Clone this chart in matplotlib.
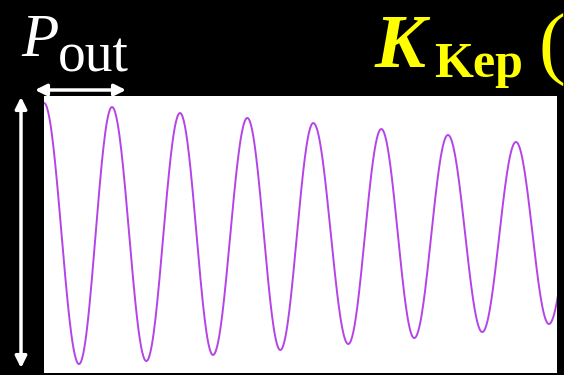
import numpy as np
import matplotlib.pyplot as plt

# extrema of the oscillation, time in units of the orbital period
peak_t = [0.0, 1.01, 2.02, 3.02, 4.00, 5.01, 6.00, 7.01, 8.01]
peak_v = [1.00, 0.969, 0.923, 0.885, 0.846, 0.800, 0.754, 0.700, 0.660]
trough_t = [0.52, 1.52, 2.51, 3.51, 4.52, 5.50, 6.51, 7.50]
trough_v = [-1.008, -0.985, -0.938, -0.900, -0.854, -0.808, -0.762, -0.700]

W, H = 564, 375


def px(x, y):
    return x / W, 1 - y / H


# merge peaks and troughs in time order
ext_t = np.array(sorted(peak_t + trough_t))
ext_v = np.array([v for _, v in sorted(zip(peak_t + trough_t, peak_v + trough_v))])

# smooth half-cosine between neighbouring extrema
t_all, v_all = [], []
for i in range(len(ext_t) - 1):
    s = np.linspace(0, 1, 60)
    w = (1 - np.cos(np.pi * s)) / 2
    t_all.append(ext_t[i] + (ext_t[i + 1] - ext_t[i]) * s)
    v_all.append(ext_v[i] + (ext_v[i + 1] - ext_v[i]) * w)
t_all = np.concatenate(t_all)
v_all = np.concatenate(v_all)

fig = plt.figure(figsize=(W / 100, H / 100), dpi=100, facecolor="black")
ax = fig.add_axes([44 / W, 2 / H, 513 / W, 277 / H])
ax.set_facecolor("white")
ax.plot(t_all, v_all, color="#b444e6", lw=1.4)
ax.set_xlim(0, 7.62)
ax.set_ylim(-1.077, 1.054)
ax.set_xticks([])
ax.set_yticks([])
for s in ax.spines.values():
    s.set_visible(False)

serif = "Liberation Serif"

# period label
fig.text(*px(21, 56), "P", color="white", fontsize=44, family=serif,
         style="italic", va="baseline", ha="left")
fig.text(*px(58, 72), "out", color="white", fontsize=40, family=serif,
         va="baseline", ha="left")
ax.annotate("", xy=px(35, 90), xytext=px(126, 90), xycoords="figure fraction",
            textcoords="figure fraction",
            arrowprops=dict(arrowstyle="<|-|>", color="white", lw=2.5,
                            mutation_scale=17, shrinkA=0, shrinkB=0))

# amplitude arrow
ax.annotate("", xy=px(21, 97), xytext=px(21, 368), xycoords="figure fraction",
            textcoords="figure fraction",
            arrowprops=dict(arrowstyle="<|-|>", color="white", lw=2.5,
                            mutation_scale=17, shrinkA=0, shrinkB=0))

# semi-amplitude label
fig.text(*px(375, 67), "K", color="#ffff00", fontsize=55, family=serif,
         style="italic", weight="bold", va="baseline", ha="left")
fig.text(*px(434, 77), "Kep", color="#ffff00", fontsize=36, family=serif,
         weight="bold", va="baseline", ha="left")
fig.text(*px(538, 70), "(", color="#ffff00", fontsize=58, family=serif,
         va="baseline", ha="left")

fig.savefig("out.png", dpi=100, facecolor="black")
